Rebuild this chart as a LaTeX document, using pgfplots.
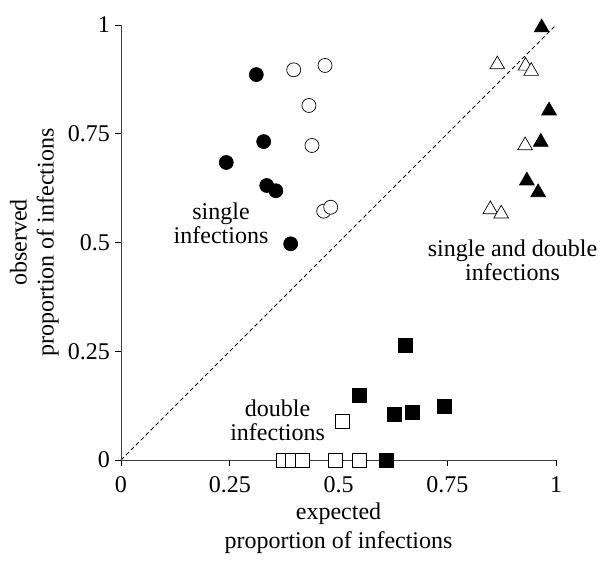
\documentclass[border=0pt]{standalone}
\usepackage{fontspec}
\setmainfont{Liberation Serif}
\usepackage{pgfplots}
\pgfplotsset{compat=1.18}
\begin{document}
\begin{tikzpicture}
\begin{axis}[
  name=ax,
  scale only axis, width=435pt, height=435pt,
  xmin=0, xmax=1, ymin=0, ymax=1,
  axis lines=left,
  axis line style={-, black!75, line width=0.8pt},
  xtick={0,0.25,0.5,0.75,1}, xticklabels={0,0.25,0.5,0.75,1},
  ytick={0,0.25,0.5,0.75,1}, yticklabels={0,0.25,0.5,0.75,1},
  tick align=outside, major tick length=6pt,
  tick style={black, line width=0.8pt},
  font=\fontsize{24}{28}\selectfont,
  ticklabel style={font=\fontsize{24}{28}\selectfont},
  xticklabel style={anchor=north, inner sep=0pt, yshift=-10pt},
  yticklabel style={anchor=east, inner sep=0pt, xshift=-5pt},
  xlabel={expected\\proportion of infections},
  ylabel={observed\\proportion of infections},
  xlabel style={align=center, inner sep=0pt, font=\fontsize{24}{29}\selectfont,
     at={(axis description cs:0.5,0)}, anchor=north, yshift=-43pt},
  ylabel style={align=center, inner sep=0pt, font=\fontsize{24}{27}\selectfont,
     at={(axis description cs:0,0.5)}, anchor=south, yshift=62pt},
  clip=false,
  axis on top,
]
\addplot[black, line width=0.8pt, dash pattern=on 4pt off 3pt] coordinates {(0,0) (1,1)};
% filled circles
\addplot[only marks, mark=*, mark size=7pt, mark options={draw=black, fill=black, line width=0.7pt}] coordinates {
(0.311,0.886) (0.328,0.732) (0.242,0.684) (0.335,0.631) (0.356,0.619) (0.390,0.497)};
% open circles
\addplot[only marks, mark=*, mark size=7pt, mark options={draw=black, fill=white, line width=0.7pt}] coordinates {
(0.397,0.897) (0.469,0.907) (0.432,0.815) (0.439,0.723) (0.466,0.572) (0.482,0.581)};
% filled triangles
\addplot[only marks, mark=triangle*, mark size=8.5pt, mark options={draw=black, fill=black, line width=0.7pt}] coordinates {
(0.967,0.994) (0.984,0.803) (0.965,0.731) (0.933,0.642) (0.959,0.615)};
% open triangles
\addplot[only marks, mark=triangle*, mark size=8.5pt, mark options={draw=black, fill=white, line width=0.7pt}] coordinates {
(0.865,0.909) (0.930,0.906) (0.943,0.894) (0.929,0.723) (0.849,0.576) (0.874,0.566)};
% filled squares
\addplot[only marks, mark=square*, mark size=7pt, mark options={draw=black, fill=black, line width=0.7pt}] coordinates {
(0.653,0.263) (0.549,0.149) (0.628,0.104) (0.669,0.109) (0.744,0.123) (0.610,0)};
% open squares
\addplot[only marks, mark=square*, mark size=7pt, mark options={draw=black, fill=white, line width=0.7pt}] coordinates {
(0.508,0.088) (0.373,0) (0.393,0) (0.416,0) (0.493,0) (0.549,0)};
\node[align=center, font=\fontsize{24}{24}\selectfont] at (axis cs:0.23,0.545) {single\\infections};
\node[align=center, font=\fontsize{24}{24}\selectfont] at (axis cs:0.90,0.46) {single and double\\infections};
\node[align=center, font=\fontsize{24}{24}\selectfont] at (axis cs:0.36,0.092) {double\\infections};
\end{axis}
\path ([xshift=-121pt,yshift=-100pt]ax.south west) rectangle ([xshift=45pt,yshift=25pt]ax.north east);
\end{tikzpicture}
\end{document}
